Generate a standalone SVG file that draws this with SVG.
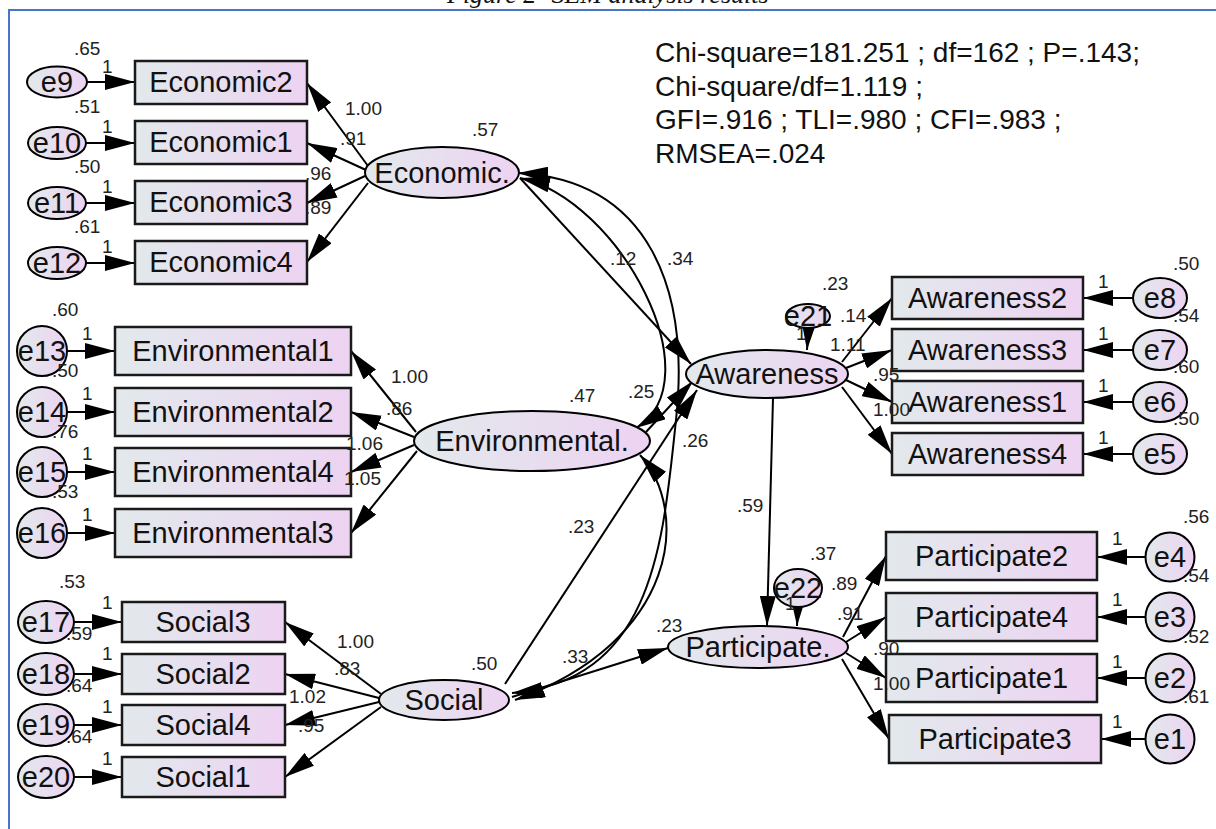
<svg xmlns="http://www.w3.org/2000/svg" width="1216" height="829" viewBox="0 0 1216 829">
<style>
.ln{stroke:#000;stroke-width:2;fill:none}
.ar{marker-end:url(#ah)}
.db{marker-start:url(#ahs);marker-end:url(#ah)}
.bx{fill:url(#gr);stroke:#1a1a1a;stroke-width:2.5}
.el{fill:url(#gr);stroke:#000;stroke-width:2}
.nt{font-family:"Liberation Sans",Arial,sans-serif;font-size:29px;text-anchor:middle;fill:#111}
.lb{font-family:"Liberation Sans",Arial,sans-serif;font-size:19px;fill:#222}
.st{font-family:"Liberation Sans",Arial,sans-serif;font-size:28px;fill:#111}
</style>
<defs>
<linearGradient id="gr" x1="0" y1="0" x2="1" y2="0">
<stop offset="0" stop-color="#E2E9EC"/><stop offset="1" stop-color="#EDD3F2"/>
</linearGradient>
<marker id="ah" markerUnits="userSpaceOnUse" markerWidth="32" markerHeight="16" refX="30" refY="8" orient="auto"><path d="M0,0 L30,8 L0,16 z" fill="#000"/></marker>
<marker id="ahs" markerUnits="userSpaceOnUse" markerWidth="32" markerHeight="16" refX="30" refY="8" orient="auto-start-reverse"><path d="M0,0 L30,8 L0,16 z" fill="#000"/></marker>
</defs>
<rect width="1216" height="829" fill="#fff"/>
<g id="frame">
<line x1="8" y1="10" x2="1216" y2="10" stroke="#4A74C9" stroke-width="2"/>
<line x1="9" y1="10" x2="9" y2="829" stroke="#4A74C9" stroke-width="2"/>
<text x="447" y="3" font-family="Liberation Serif,serif" font-style="italic" font-size="26" fill="#111">Figure 2- SEM analysis results</text>
</g>
<g id="connectors">
<line class="ln ar" x1="87" y1="82" x2="135" y2="82"/>
<line class="ln ar" x1="86" y1="143" x2="135" y2="143"/>
<line class="ln ar" x1="86" y1="203" x2="135" y2="203"/>
<line class="ln ar" x1="86" y1="263" x2="135" y2="263"/>
<line class="ln ar" x1="67" y1="351" x2="115" y2="351"/>
<line class="ln ar" x1="67" y1="412" x2="115" y2="412"/>
<line class="ln ar" x1="67" y1="472" x2="115" y2="472"/>
<line class="ln ar" x1="67" y1="533" x2="115" y2="533"/>
<line class="ln ar" x1="74" y1="622" x2="122" y2="622"/>
<line class="ln ar" x1="74" y1="674" x2="122" y2="674"/>
<line class="ln ar" x1="74" y1="725" x2="122" y2="725"/>
<line class="ln ar" x1="74" y1="777" x2="122" y2="777"/>
<line class="ln ar" x1="1133" y1="298" x2="1083" y2="298"/>
<line class="ln ar" x1="1133" y1="350" x2="1083" y2="350"/>
<line class="ln ar" x1="1133" y1="402" x2="1083" y2="402"/>
<line class="ln ar" x1="1133" y1="454" x2="1083" y2="454"/>
<line class="ln ar" x1="1146" y1="557" x2="1097" y2="557"/>
<line class="ln ar" x1="1146" y1="617" x2="1097" y2="617"/>
<line class="ln ar" x1="1146" y1="678" x2="1097" y2="678"/>
<line class="ln ar" x1="1146" y1="739" x2="1101" y2="739"/>
<line class="ln ar" x1="368" y1="166" x2="307" y2="83"/>
<line class="ln ar" x1="366" y1="170" x2="307" y2="143"/>
<line class="ln ar" x1="365" y1="176" x2="307" y2="203"/>
<line class="ln ar" x1="368" y1="183" x2="307" y2="262"/>
<line class="ln ar" x1="416" y1="432" x2="351" y2="351"/>
<line class="ln ar" x1="414" y1="437" x2="351" y2="412"/>
<line class="ln ar" x1="414" y1="445" x2="351" y2="472"/>
<line class="ln ar" x1="417" y1="451" x2="351" y2="533"/>
<line class="ln ar" x1="381" y1="694" x2="285" y2="622"/>
<line class="ln ar" x1="379" y1="698" x2="285" y2="674"/>
<line class="ln ar" x1="379" y1="702" x2="285" y2="725"/>
<line class="ln ar" x1="381" y1="707" x2="285" y2="777"/>
<line class="ln ar" x1="842" y1="362" x2="892" y2="298"/>
<line class="ln ar" x1="846" y1="368" x2="892" y2="350"/>
<line class="ln ar" x1="846" y1="380" x2="892" y2="402"/>
<line class="ln ar" x1="842" y1="387" x2="892" y2="454"/>
<line class="ln ar" x1="843" y1="637" x2="886" y2="556"/>
<line class="ln ar" x1="846" y1="642" x2="886" y2="617"/>
<line class="ln ar" x1="846" y1="653" x2="886" y2="678"/>
<line class="ln ar" x1="842" y1="659" x2="889" y2="739"/>
<line class="ln ar" x1="520" y1="178" x2="691" y2="364"/>
<line class="ln ar" x1="646" y1="432" x2="693" y2="381"/>
<line class="ln ar" x1="505" y1="684" x2="697" y2="390"/>
<line class="ln ar" x1="773" y1="398" x2="767" y2="626"/>
<line class="ln ar" x1="512" y1="697" x2="668" y2="648"/>
<line class="ln ar" x1="809" y1="322" x2="807" y2="350"/>
<line class="ln ar" x1="798" y1="603" x2="797" y2="626"/>
<path class="ln db" d="M520,178 C620,200 715,380 636,428"/>
<path class="ln db" d="M518,173 C650,180 690,290 676,420 C663,540 655,680 512,693"/>
<path class="ln db" d="M640,455 C690,510 680,640 515,700"/>
</g>
<g id="Economic2"><ellipse class="el" cx="57" cy="82" rx="30" ry="15.5"/><text class="nt" x="57" y="92">e9</text><rect class="bx" x="135" y="61" width="172" height="43"/><text class="nt" x="221" y="92">Economic2</text></g>
<g id="Economic1"><ellipse class="el" cx="57" cy="143" rx="29" ry="16"/><text class="nt" x="57" y="153">e10</text><rect class="bx" x="135" y="121" width="172" height="43"/><text class="nt" x="221" y="152">Economic1</text></g>
<g id="Economic3"><ellipse class="el" cx="57" cy="203" rx="29" ry="16"/><text class="nt" x="57" y="213">e11</text><rect class="bx" x="135" y="181" width="172" height="43"/><text class="nt" x="221" y="212">Economic3</text></g>
<g id="Economic4"><ellipse class="el" cx="57" cy="263" rx="29" ry="16"/><text class="nt" x="57" y="273">e12</text><rect class="bx" x="135" y="241" width="172" height="43"/><text class="nt" x="221" y="272">Economic4</text></g>
<g id="Economic"><ellipse class="el" cx="442" cy="172.5" rx="77" ry="25.5"/><text class="nt" x="442" y="183">Economic.</text></g>
<g id="Environmental1"><ellipse class="el" cx="42" cy="351" rx="25" ry="25"/><text class="nt" x="42" y="361">e13</text><rect class="bx" x="115" y="327" width="236" height="48"/><text class="nt" x="233" y="361">Environmental1</text></g>
<g id="Environmental2"><ellipse class="el" cx="42" cy="412" rx="25" ry="25"/><text class="nt" x="42" y="422">e14</text><rect class="bx" x="115" y="388" width="236" height="48"/><text class="nt" x="233" y="422">Environmental2</text></g>
<g id="Environmental4"><ellipse class="el" cx="42" cy="472" rx="25" ry="25"/><text class="nt" x="42" y="482">e15</text><rect class="bx" x="115" y="448" width="236" height="48"/><text class="nt" x="233" y="482">Environmental4</text></g>
<g id="Environmental3"><ellipse class="el" cx="42" cy="533" rx="25" ry="25"/><text class="nt" x="42" y="543">e16</text><rect class="bx" x="115" y="509" width="236" height="48"/><text class="nt" x="233" y="543">Environmental3</text></g>
<g id="Environmental"><ellipse class="el" cx="532" cy="441" rx="118" ry="30"/><text class="nt" x="532" y="451">Environmental.</text></g>
<g id="Social3"><ellipse class="el" cx="46" cy="622" rx="28" ry="21"/><text class="nt" x="46" y="632">e17</text><rect class="bx" x="122" y="602" width="163" height="40"/><text class="nt" x="203" y="632">Social3</text></g>
<g id="Social2"><ellipse class="el" cx="46" cy="674" rx="28" ry="21"/><text class="nt" x="46" y="684">e18</text><rect class="bx" x="122" y="654" width="163" height="40"/><text class="nt" x="203" y="684">Social2</text></g>
<g id="Social4"><ellipse class="el" cx="46" cy="725" rx="28" ry="21"/><text class="nt" x="46" y="735">e19</text><rect class="bx" x="122" y="705" width="163" height="40"/><text class="nt" x="203" y="735">Social4</text></g>
<g id="Social1"><ellipse class="el" cx="46" cy="777" rx="28" ry="21"/><text class="nt" x="46" y="787">e20</text><rect class="bx" x="122" y="757" width="163" height="40"/><text class="nt" x="203" y="787">Social1</text></g>
<g id="Social"><ellipse class="el" cx="444" cy="700" rx="65" ry="20"/><text class="nt" x="444" y="710">Social</text></g>
<g id="Awareness"><ellipse class="el" cx="767" cy="374" rx="81" ry="24"/><text class="nt" x="767" y="384">Awareness</text></g>
<g id="e21"><ellipse class="el" cx="808" cy="316" rx="22" ry="12"/><text class="nt" x="808" y="326">e21</text></g>
<g id="Awareness2"><rect class="bx" x="892" y="277" width="191" height="42"/><text class="nt" x="987.5" y="308">Awareness2</text><ellipse class="el" cx="1160" cy="298" rx="27" ry="20"/><text class="nt" x="1160" y="308">e8</text></g>
<g id="Awareness3"><rect class="bx" x="892" y="329" width="191" height="42"/><text class="nt" x="987.5" y="360">Awareness3</text><ellipse class="el" cx="1160" cy="350" rx="27" ry="20"/><text class="nt" x="1160" y="360">e7</text></g>
<g id="Awareness1"><rect class="bx" x="892" y="381" width="191" height="42"/><text class="nt" x="987.5" y="412">Awareness1</text><ellipse class="el" cx="1160" cy="402" rx="27" ry="20"/><text class="nt" x="1160" y="412">e6</text></g>
<g id="Awareness4"><rect class="bx" x="892" y="433" width="191" height="42"/><text class="nt" x="987.5" y="464">Awareness4</text><ellipse class="el" cx="1160" cy="454" rx="27" ry="20"/><text class="nt" x="1160" y="464">e5</text></g>
<g id="Participate"><ellipse class="el" cx="758" cy="647" rx="90" ry="21"/><text class="nt" x="758" y="657">Participate.</text></g>
<g id="e22"><ellipse class="el" cx="798" cy="588" rx="24" ry="19"/><text class="nt" x="798" y="598">e22</text></g>
<g id="Participate2"><rect class="bx" x="886" y="532" width="211" height="48"/><text class="nt" x="991.5" y="566">Participate2</text><ellipse class="el" cx="1170" cy="557" rx="24.5" ry="24.5"/><text class="nt" x="1170" y="567">e4</text></g>
<g id="Participate4"><rect class="bx" x="886" y="593" width="211" height="48"/><text class="nt" x="991.5" y="627">Participate4</text><ellipse class="el" cx="1170" cy="617" rx="24.5" ry="24.5"/><text class="nt" x="1170" y="627">e3</text></g>
<g id="Participate1"><rect class="bx" x="886" y="654" width="211" height="48"/><text class="nt" x="991.5" y="688">Participate1</text><ellipse class="el" cx="1170" cy="678" rx="24.5" ry="24.5"/><text class="nt" x="1170" y="688">e2</text></g>
<g id="Participate3"><rect class="bx" x="889" y="715" width="212" height="48"/><text class="nt" x="995" y="749">Participate3</text><ellipse class="el" cx="1170" cy="739" rx="24.5" ry="24.5"/><text class="nt" x="1170" y="749">e1</text></g>
<g id="labels" class="lb">
<text x="74" y="55">.65</text><text x="102" y="73">1</text>
<text x="74" y="113">.51</text><text x="102" y="133">1</text>
<text x="74" y="173">.50</text><text x="102" y="193">1</text>
<text x="74" y="233">.61</text><text x="102" y="253">1</text>
<text x="345" y="115">1.00</text><text x="340" y="145">.91</text><text x="305" y="180">.96</text><text x="305" y="214">.89</text>
<text x="472" y="136">.57</text>
<text x="52" y="316">.60</text><text x="82" y="340">1</text>
<text x="52" y="377">.50</text><text x="82" y="400">1</text>
<text x="52" y="438">.76</text><text x="82" y="460">1</text>
<text x="52" y="498">.53</text><text x="82" y="521">1</text>
<text x="391" y="383">1.00</text><text x="386" y="415">.86</text><text x="346" y="450">1.06</text><text x="344" y="485">1.05</text>
<text x="569" y="402">.47</text>
<text x="59" y="588">.53</text><text x="102" y="609">1</text>
<text x="66" y="640">.59</text><text x="102" y="660">1</text>
<text x="66" y="692">.64</text><text x="102" y="713">1</text>
<text x="66" y="743">.64</text><text x="102" y="765">1</text>
<text x="337" y="648">1.00</text><text x="334" y="675">.83</text><text x="289" y="703">1.02</text><text x="298" y="732">.95</text>
<text x="471" y="670">.50</text>
<text x="610" y="265">.12</text><text x="667" y="265">.34</text><text x="628" y="398">.25</text><text x="682" y="447">.26</text>
<text x="568" y="533">.23</text><text x="737" y="512">.59</text><text x="562" y="663">.33</text><text x="656" y="632">.23</text>
<text x="822" y="290">.23</text><text x="796" y="340">1</text>
<text x="840" y="322">.14</text><text x="830" y="351">1.11</text><text x="873" y="381">.95</text><text x="873" y="416">1.00</text>
<text x="1173" y="270">.50</text><text x="1173" y="322">.54</text><text x="1173" y="373">.60</text><text x="1173" y="425">.50</text>
<text x="1098" y="288">1</text><text x="1098" y="340">1</text><text x="1098" y="392">1</text><text x="1098" y="444">1</text>
<text x="810" y="560">.37</text><text x="785" y="610">1</text>
<text x="831" y="590">.89</text><text x="837" y="620">.91</text><text x="873" y="655">.90</text><text x="873" y="690">1.00</text>
<text x="1183" y="523">.56</text><text x="1183" y="582">.54</text><text x="1183" y="643">.52</text><text x="1183" y="703">.61</text>
<text x="1112" y="545">1</text><text x="1112" y="606">1</text><text x="1112" y="668">1</text><text x="1112" y="728">1</text>
</g>
<g id="stats" class="st">
<text x="655" y="62">Chi-square=181.251 ; df=162 ; P=.143;</text>
<text x="655" y="96">Chi-square/df=1.119 ;</text>
<text x="655" y="129">GFI=.916 ; TLI=.980 ; CFI=.983 ;</text>
<text x="655" y="163">RMSEA=.024</text>
</g>
</svg>
